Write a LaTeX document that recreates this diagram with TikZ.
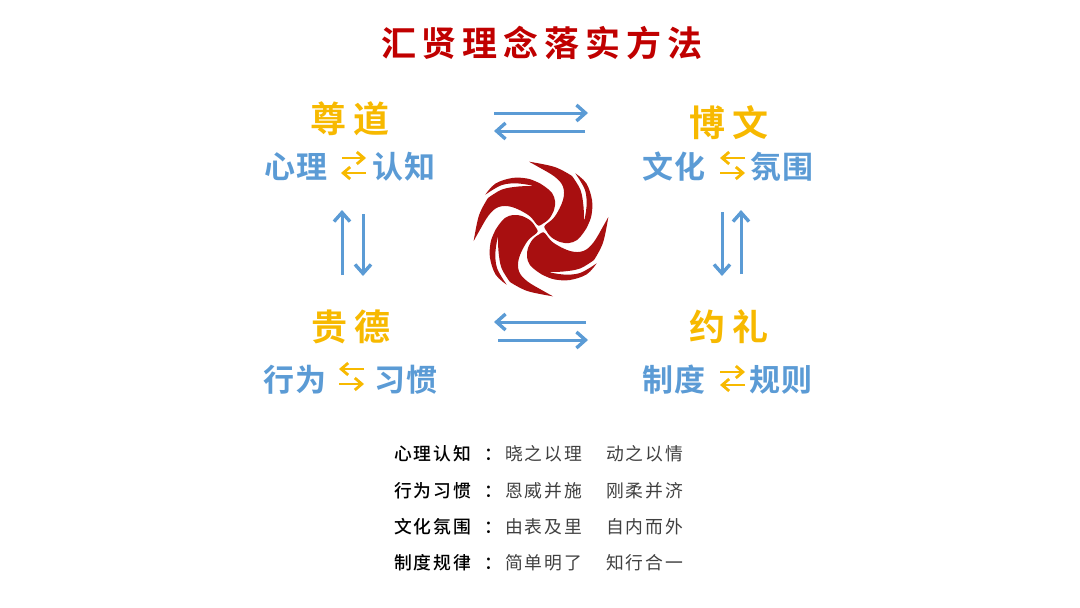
\documentclass[tikz,border=0pt]{standalone}
\usepackage{fontspec}
\usetikzlibrary{arrows.meta}
\newfontfamily\cjkTitle[LetterSpace=17]{Noto Sans CJK SC Bold}
\newfontfamily\cjkHead[LetterSpace=20]{Noto Sans CJK SC Bold}
\newfontfamily\cjkSub[LetterSpace=6]{Noto Sans CJK SC Bold}
\newfontfamily\cjkKey[LetterSpace=12]{Noto Sans CJK SC Medium}
\newfontfamily\cjkVal[LetterSpace=12]{Noto Sans CJK SC}
\definecolor{logored}{HTML}{A80F10}
\definecolor{titlered}{HTML}{C00000}
\definecolor{arrowblue}{HTML}{5B9BD5}
\definecolor{goldtext}{HTML}{F7B900}
\tikzset{
  txt/.style={inner sep=0pt,outer sep=0pt,anchor=west},
  titletxt/.style={txt,text=titlered,font=\cjkTitle\fontsize{35}{35}\selectfont},
  headtxt/.style={txt,text=goldtext,font=\cjkHead\fontsize{36}{36}\selectfont},
  subtxt/.style={txt,text=arrowblue,font=\cjkSub\fontsize{31}{31}\selectfont},
  bodykey/.style={txt,text=black,font=\cjkKey\fontsize{17.8}{17.8}\selectfont},
  bodyval/.style={txt,text=black!75,font=\cjkVal\fontsize{17.8}{17.8}\selectfont},
  bigarrow/.style={draw=arrowblue,line width=3pt,-{Straight Barb[length=9pt,width=16pt,line width=3.4pt]}},
  smallarrow/.style={draw=goldtext,line width=2.6pt,-{Straight Barb[length=7pt,width=12pt,line width=2.8pt]}},
  blade/.style={fill=logored,draw=none},
}
\newcommand{\bladepath}{%
  plot[smooth,tension=.6] coordinates {(-67.3,12) (-62,-13.7) (-53,-31)}
  -- plot[smooth,tension=.6] coordinates {(-53,-31) (-39,-39.5) (-22.3,-42.5) (-7.3,-43)}
  -- plot[smooth,tension=.6] coordinates {(-7.3,-43) (-22.3,-45.5) (-39,-44) (-55.7,-34.3)}
  -- plot[smooth,tension=.6] coordinates {(-55.7,-34.3) (-45.7,-45.3) (-29,-51) (-14,-50.5) (-4,-47) (3,-43) (11,-36) (14,-28) (13,-19) (8,-10) (2,-5.5)}
  -- plot[smooth,tension=.6] coordinates {(2,-5.5) (-1,-3.6) (-4,-4.3) (-12.3,-13.7) (-29,-22) (-42.3,-22) (-52.3,-13.7) (-62.3,3) (-67.3,12)}
  -- cycle}
\begin{document}
\begin{tikzpicture}[x=1pt,y=-1pt]
\useasboundingbox (0,0) rectangle (1080,608);
% title
\node[titletxt] (title) at (381,43) {汇贤理念落实方法};
% headings
\node[headtxt] (zundao) at (310,119) {尊道};
\node[headtxt] (bowen) at (689,123) {博文};
\node[headtxt] (guide) at (311,327) {贵德};
\node[headtxt] (yueli) at (689,327) {约礼};
% sublabels
\node[subtxt] (xinli) at (264,167) {心理};
\node[subtxt] (renzhi) at (372,167) {认知};
\node[subtxt] (wenhua) at (642,167) {文化};
\node[subtxt] (fenwei) at (750,167) {氛围};
\node[subtxt] (xingwei) at (263,380) {行为};
\node[subtxt] (xiguan) at (374,380) {习惯};
\node[subtxt] (zhidu) at (642,380) {制度};
\node[subtxt] (guize) at (749,380) {规则};
% logo
\begin{scope}[shift={(541,229)}]
\foreach \r in {0,90,180,270}{
  \fill[blade,rotate=\r] \bladepath;
}
\end{scope}
% big arrows
\coordinate (t1a) at (494,113); \coordinate (t1b) at (588,113);
\coordinate (t2a) at (585,131); \coordinate (t2b) at (494,131);
\coordinate (l1a) at (342,275); \coordinate (l1b) at (342,210);
\coordinate (l2a) at (363,214); \coordinate (l2b) at (363,276);
\coordinate (r1a) at (722,212); \coordinate (r1b) at (722,276);
\coordinate (r2a) at (741,274); \coordinate (r2b) at (741,210);
\coordinate (b1a) at (586,322); \coordinate (b1b) at (494,322);
\coordinate (b2a) at (498,340); \coordinate (b2b) at (588,340);
\foreach \u/\v in {t1a/t1b,t2a/t2b,l1a/l1b,l2a/l2b,r1a/r1b,r2a/r2b,b1a/b1b,b2a/b2b}
  \draw[bigarrow] (\u) -- (\v);
% small arrows
\coordinate (a1a) at (342,158); \coordinate (a1b) at (366,158);
\coordinate (a2a) at (366,173); \coordinate (a2b) at (341,173);
\coordinate (a3a) at (745,158); \coordinate (a3b) at (720,158);
\coordinate (a4a) at (720,173); \coordinate (a4b) at (745,173);
\coordinate (a5a) at (364,369); \coordinate (a5b) at (339,369);
\coordinate (a6a) at (339,384); \coordinate (a6b) at (364,384);
\coordinate (a7a) at (720,372); \coordinate (a7b) at (745,372);
\coordinate (a8a) at (745,385); \coordinate (a8b) at (720,385);
\foreach \u/\v in {a1a/a1b,a2a/a2b,a3a/a3b,a4a/a4b,a5a/a5b,a6a/a6b,a7a/a7b,a8a/a8b}
  \draw[smallarrow] (\u) -- (\v);
% bottom table
\node[bodykey] (k1) at (394,454) {心理认知};
\node[bodykey] (c1) at (484,455) {：};
\node[bodyval] (v1) at (505,454) {晓之以理};
\node[bodyval] (w1) at (606,454) {动之以情};
\node[bodykey] (k2) at (394,491) {行为习惯};
\node[bodykey] (c2) at (484,492) {：};
\node[bodyval] (v2) at (505,491) {恩威并施};
\node[bodyval] (w2) at (606,491) {刚柔并济};
\node[bodykey] (k3) at (394,527) {文化氛围};
\node[bodykey] (c3) at (484,528) {：};
\node[bodyval] (v3) at (505,527) {由表及里};
\node[bodyval] (w3) at (606,527) {自内而外};
\node[bodykey] (k4) at (394,563) {制度规律};
\node[bodykey] (c4) at (484,564) {：};
\node[bodyval] (v4) at (505,563) {简单明了};
\node[bodyval] (w4) at (606,563) {知行合一};
\end{tikzpicture}
\end{document}
